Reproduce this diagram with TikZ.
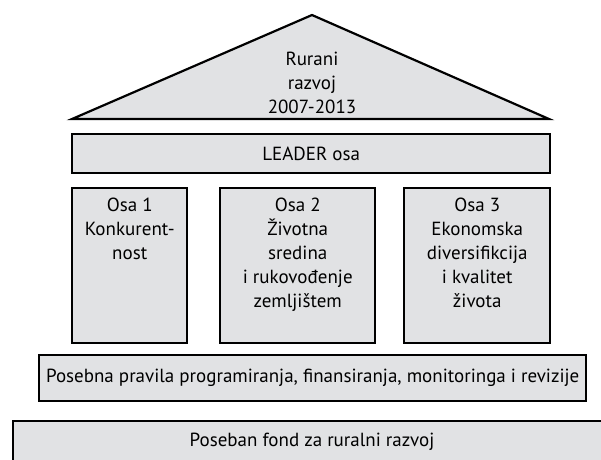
\documentclass[tikz,border=0pt]{standalone}
\usepackage{fontspec}
\setmainfont{PT Sans}
\usepackage{tikz}
\usetikzlibrary{positioning}

\definecolor{boxgray}{RGB}{225,226,228}

\tikzset{
  pillar/.style={draw, line width=2.4pt, fill=boxgray, rectangle, inner sep=0pt, anchor=north west},
  boxtext/.style={align=center, anchor=north, inner sep=0pt, font=\fontsize{19}{24}\selectfont},
}

\begin{document}
\begin{tikzpicture}[x=1pt, y=-1pt]
			\useasboundingbox (0,0) rectangle (601,459);
			\clip (0,0) rectangle (601,459);

			% roof
			\coordinate (RL) at (72,119);
			\coordinate (RT) at (312,15);
			\coordinate (RR) at (549,119);
			\draw [line width=2.2pt, fill=boxgray, line join=miter] (RL) -- (RT) -- (RR) -- cycle;
			\node (roof) [boxtext] at (312,52) {Rurani\\razvoj\\2007-2013};

			% beams and pillars
			\node (leader) [pillar, minimum width=478pt, minimum height=39pt] at (71,133) {};
			\node (tleader) [boxtext, anchor=center] at (leader.center) {LEADER osa};

			\node (osa1) [pillar, minimum width=115pt, minimum height=155pt] at (71,187) {};
			\node (osa2) [pillar, minimum width=155pt, minimum height=155pt] at (219,187) {};
			\node (osa3) [pillar, minimum width=146pt, minimum height=155pt] at (403,187) {};
			\node (t1) [boxtext, below=11pt of osa1.north] {Osa 1\\Konkurent-\\nost};
			\node (t2) [boxtext, below=11pt of osa2.north] {Osa 2\\Životna\\sredina\\i rukovođenje\\zemljištem};
			\node (t3) [boxtext, below=11pt of osa3.north] {Osa 3\\Ekonomska\\diversifikcija\\i kvalitet\\života};

			\node (pravila) [pillar, minimum width=547pt, minimum height=46pt] at (38,354) {};
			\node (tpravila) [boxtext, anchor=center] at (pravila.center) {Posebna pravila programiranja, finansiranja, monitoringa i revizije};

			\node (fond) [pillar, minimum width=640pt, minimum height=70pt] at (12,420) {};
			\node (tfond) [boxtext, anchor=center] at (312,442) {Poseban fond za ruralni razvoj};
		\end{tikzpicture}
\end{document}
